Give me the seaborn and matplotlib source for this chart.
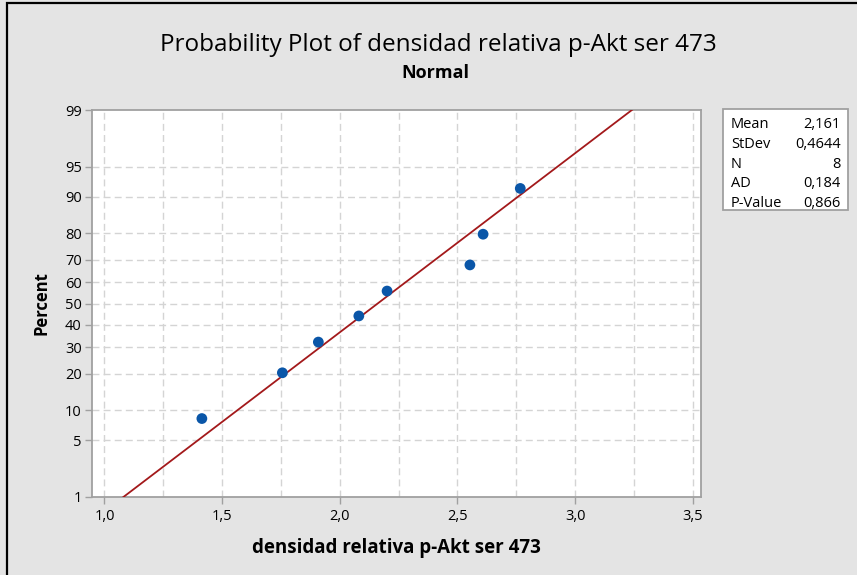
import numpy as np
import pandas as pd
import seaborn as sns
import matplotlib
matplotlib.use("Agg")
import matplotlib.pyplot as plt
from matplotlib.patches import Rectangle
from statistics import NormalDist

# ---- data ----
values = [1.414, 1.756, 1.909, 2.081, 2.201, 2.553, 2.609, 2.767]
percents = [8.33, 20.24, 32.14, 44.05, 55.95, 67.86, 79.76, 91.67]
mean_val = 2.161
stdev_val = 0.4644
stat_labels = ["Mean", "StDev", "N", "AD", "P-Value"]
stat_values = ["2,161", "0,4644", "8", "0,184", "0,866"]
y_ticks_pct = [1, 5, 10, 20, 30, 40, 50, 60, 70, 80, 90, 95, 99]
x_ticks = [1.0, 1.5, 2.0, 2.5, 3.0, 3.5]
x_grid = [1.0, 1.25, 1.5, 1.75, 2.0, 2.25, 2.5, 2.75, 3.0, 3.25, 3.5]
title = "Probability Plot of densidad relativa p-Akt ser 473"
subtitle = "Normal"
xlabel = "densidad relativa p-Akt ser 473"
ylabel = "Percent"

nd = NormalDist()
def z(p):
    return nd.inv_cdf(p / 100.0)

sns.set_theme(style="white")
FONT = ["Open Sans", "DejaVu Sans"]
plt.rcParams["font.family"] = FONT
plt.rcParams["text.color"] = "black"
plt.rcParams["axes.labelcolor"] = "black"

BG = "#e4e4e4"
fig = plt.figure(figsize=(8.57, 5.75), dpi=100, facecolor=BG)
ax = fig.add_axes([91.5 / 857, 1 - 497 / 575, (701 - 91.5) / 857, (497 - 110) / 575])
ax.set_facecolor("white")

# outer frame (black line at top and left)
fig.patches.append(Rectangle((7 / 857, -0.1), 1.2, 1 - 3 / 575 + 0.1, transform=fig.transFigure,
                             fill=False, edgecolor="black", linewidth=1.6, zorder=0))

df = pd.DataFrame({"x": values, "z": [z(p) for p in percents]})
zlo, zhi = z(y_ticks_pct[0]), z(y_ticks_pct[-1])

# fitted line
zz = np.array([zlo - 0.3, zhi + 0.3])
line_df = pd.DataFrame({"x": mean_val + stdev_val * zz, "z": zz})
sns.lineplot(data=line_df, x="x", y="z", ax=ax, color="#a3191b", linewidth=1.3, zorder=3)

sns.scatterplot(data=df, x="x", y="z", ax=ax, color="#0a56a8", s=60, edgecolor="none", zorder=4)

ax.set_xlim(0.945, 3.535)
ax.set_ylim(zlo, zhi)

# grid
for gx in x_grid:
    ax.axvline(gx, color="#d4d4d4", linestyle=(0, (5, 3)), linewidth=1.0, zorder=1)
for p in y_ticks_pct[1:-1]:
    ax.axhline(z(p), color="#d4d4d4", linestyle=(0, (5, 3)), linewidth=1.0, zorder=1)

ax.set_xticks(x_ticks)
ax.set_xticklabels([f"{t:.1f}".replace(".", ",") for t in x_ticks])
ax.set_yticks([z(p) for p in y_ticks_pct])
ax.set_yticklabels([str(p) for p in y_ticks_pct])
ax.tick_params(axis="both", direction="out", length=5, width=1, color="#a0a0a0",
               labelsize=10.5, labelcolor="black", pad=2, left=True, bottom=True)
ax.tick_params(axis="x", pad=4)
for s in ax.spines.values():
    s.set_color("#a0a0a0")
    s.set_linewidth(1.3)

ax.set_xlabel(xlabel, fontsize=13.5, fontweight="bold")
ax.set_ylabel(ylabel, fontsize=12, fontweight="bold")
ax.xaxis.set_label_coords(0.5, -0.105)
ax.yaxis.set_label_coords(-0.068, 0.5)

fig.text(438 / 857, 1 - 45 / 575, title, ha="center", va="center", fontsize=17.5)
fig.text(435 / 857, 1 - 73 / 575, subtitle, ha="center", va="center", fontsize=13, fontweight="bold")

# stats box
fig.patches.append(Rectangle((722.5 / 857, 1 - 210 / 575), (848 - 722.5) / 857, (210 - 109) / 575,
                             transform=fig.transFigure, facecolor="white", edgecolor="#a0a0a0",
                             linewidth=1.3, zorder=2))
for i, (lab, val) in enumerate(zip(stat_labels, stat_values)):
    yy = 1 - (125 + i * 19.6) / 575
    fig.text(731 / 857, yy, lab, ha="left", va="center", fontsize=10.5, zorder=3)
    fig.text(841 / 857, yy, val, ha="right", va="center", fontsize=10.5, zorder=3)

fig.savefig("out.png", dpi=100, facecolor=BG)
